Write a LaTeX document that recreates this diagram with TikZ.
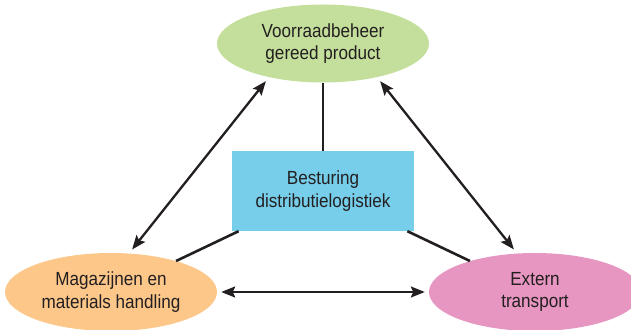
\documentclass[tikz,border=0pt]{standalone}
\usepackage{fontspec}
\setmainfont[FakeStretch=0.9]{Liberation Sans}
\usetikzlibrary{shapes,arrows.meta}
\definecolor{groen}{RGB}{196,223,155}
\definecolor{oranje}{RGB}{253,199,138}
\definecolor{roze}{RGB}{230,150,192}
\definecolor{blauw}{RGB}{118,206,234}
\definecolor{inkt}{RGB}{35,31,32}
\tikzstyle{bol} = [ellipse, inner sep=0pt, minimum width=212pt, minimum height=78pt, text=inkt, align=center]
\tikzstyle{blok} = [rectangle, fill=blauw, minimum width=182pt, minimum height=80pt, text=inkt, align=center]
\tikzstyle{lijn} = [draw=inkt, line width=2.6pt]
\tikzstyle{pijl} = [draw=inkt, line width=2.3pt, {Stealth[length=14pt,width=11pt,inset=2.5pt]}-{Stealth[length=14pt,width=11pt,inset=2.5pt]}]

\begin{document}
\begin{tikzpicture}[x=1pt,y=1pt,font=\fontsize{19}{22.5}\selectfont]
  \useasboundingbox (0,0) rectangle (631,329);
      \node [bol, fill=groen] (voorraad) at (323,285.5) {Voorraadbeheer\\gereed product};
      \node [blok] (besturing) at (323,138) {Besturing\\distributielogistiek};
      \node [bol, fill=oranje] (magazijn) at (111,37) {Magazijnen en\\materials handling};
      \node [bol, fill=roze] (transport) at (535,37) {Extern\\transport};

      % verbindingen met de besturing
      \path [lijn] (voorraad) -- (besturing);
      \path [lijn] (besturing) -- (magazijn);
      \path [lijn] (besturing) -- (transport);

      % stromen tussen de drie deelgebieden
      \path [pijl, shorten <=5pt, shorten >=5pt] (magazijn.65) -- (voorraad.212);
      \path [pijl, shorten <=5pt, shorten >=5pt] (voorraad.328) -- (transport.115);
      \path [pijl, shorten <=4pt, shorten >=4pt] (magazijn) -- (transport);
\end{tikzpicture}
\end{document}
